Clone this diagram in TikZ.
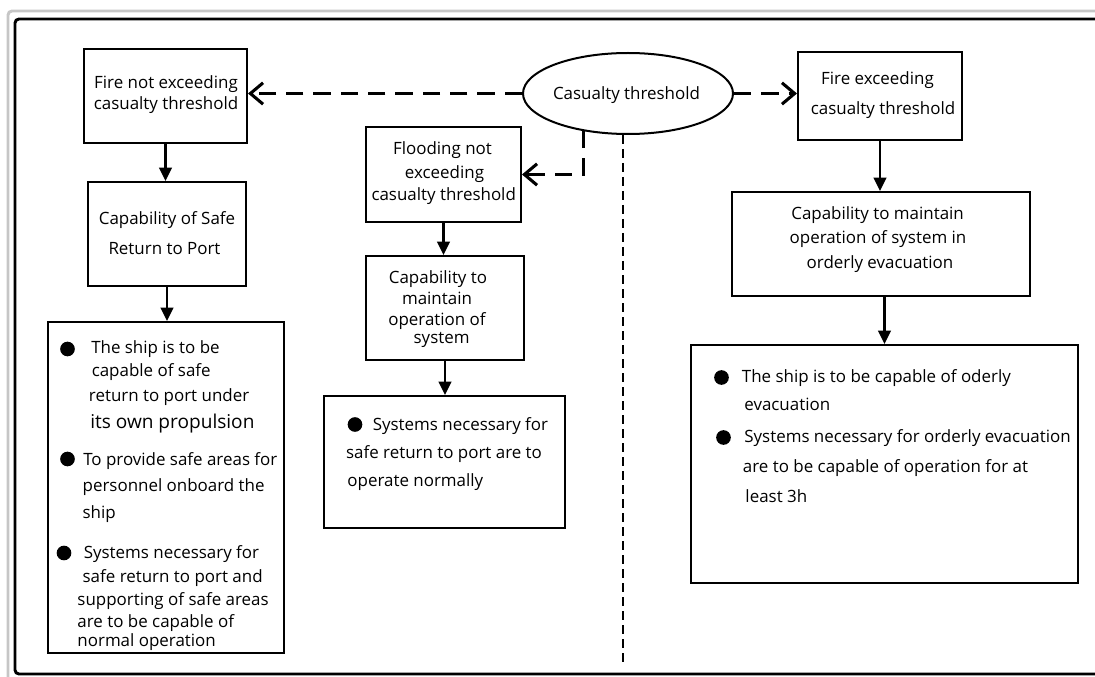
\documentclass[tikz,border=0pt]{standalone}
\usepackage{fontspec}
\setmainfont{Open Sans}
\usetikzlibrary{arrows.meta,fit,shapes.geometric}
\begin{document}
\begin{tikzpicture}[x=0.75pt,y=-0.75pt,
  box/.style={draw, line width=1.5pt, inner sep=0pt},
  ctxt/.style={anchor=base, inner sep=0pt, font=\fontsize{12.7}{15}\selectfont},
  arr/.style={line width=1.6pt, -{Triangle[length=10pt,width=9.5pt]}},
  darr/.style={line width=2.3pt, dash pattern=on 13pt off 7.5pt, -{Straight Barb[length=9.5pt,width=16pt]}},
  divider/.style={line width=1.1pt, dash pattern=on 7pt off 3.5pt},
  dot/.style={circle, fill, inner sep=0pt, minimum size=11pt},
  txt/.style={anchor=base west, inner sep=0pt, font=\fontsize{12.7}{15}\selectfont},
]
\useasboundingbox (0,0) rectangle (1095,677);
% window frame
\draw[gray!45, line width=2.2pt, rounded corners=3pt] (1095,11) -- (8,11) -- (8,677);
\draw[black, line width=2.2pt, rounded corners=3pt] (1095,19) -- (15,19) -- (15,674) -- (1095,674);

% left column
\node[box, fit={(84,49) (247,143)}] (b1) {};
\node[ctxt] (b1t1) at (166,88.3) {Fire not exceeding};
\node[ctxt] (b1t2) at (166,109.3) {casualty threshold};
\node[box, fit={(88,182) (246,286)}] (b2) {};
\node[ctxt] (b2t1) at (167,225) {Capability of Safe};
\node[ctxt] (b2t2) at (164.5,255) {Return to Port};
\node[box, fit={(48,322) (284,653)}] (lb) {};

% middle column
\node[box, fit={(366,127) (521,222)}] (fl) {};
\node[ctxt] (flt1) at (442.5,155) {Flooding not};
\node[ctxt] (flt2) at (444.5,179) {exceeding};
\node[ctxt] (flt3) at (443.7,201) {casualty threshold};
\node[box, fit={(366,256) (524,360)}] (mc) {};
\node[ctxt] (mct1) at (438,283.3) {Capability to};
\node[ctxt] (mct2) at (437,304.5) {maintain};
\node[ctxt] (mct3) at (437,325) {operation of};
\node[ctxt] (mct4) at (441.6,343.3) {system};
\node[box, fit={(324,396) (565,528)}] (mb) {};

% ellipse
\node[ellipse, draw, line width=1.5pt, inner sep=0pt, minimum width=157.5pt, minimum height=60.75pt] (ell) at (628,93.5) {};
\node[ctxt] (ellt) at (626.5,99.5) {Casualty threshold};

% right column
\node[box, fit={(798,52) (962,140)}] (rt) {};
\node[ctxt] (rtt1) at (877.5,85) {Fire exceeding};
\node[ctxt] (rtt2) at (883,115) {casualty threshold};
\node[box, fit={(732,192) (1030,296)}] (rc) {};
\node[ctxt] (rct1) at (877.6,220) {Capability to maintain};
\node[ctxt] (rct2) at (878,243.5) {operation of system in};
\node[ctxt] (rct3) at (880,268) {orderly evacuation};
\node[box, fit={(691,345) (1078,583)}] (rb) {};

% solid arrows
\draw[arr] (b1.south) -- (b1.south |- b2.north);
\draw[arr] (b2.south) -- (b2.south |- lb.north);
\draw[arr] (fl.south) -- (fl.south |- mc.north);
\draw[arr] (mc.south) -- (mc.south |- mb.north);
\draw[arr] (rt.south) -- (rt.south |- rc.north);
\draw[arr] (rb.north |- rc.south) -- (rb.north);

% dashed arrows
\draw[darr] (ell.west) -- (ell.west -| b1.east);
\draw[darr] (ell.east) -- (ell.east -| rt.west);
\draw[darr] (ell.220.6) |- (fl.east);

% divider
\coordinate (divbot) at (623,667);
\draw[divider] (ell.south -| divbot) -- (divbot);

% left bullets
\node[dot] (l1) at (67.5,349) {};
\node[txt] (l1a) at (91,353) {The ship is to be};
\node[txt] (l1b) at (91.5,376.7) {capable of safe};
\node[txt] (l1c) at (88.7,401) {return to port under};
\node[txt, font=\fontsize{14.3}{15}\selectfont] (l1d) at (90,428) {its own propulsion};
\node[dot] (l2) at (67.5,459) {};
\node[txt] (l2a) at (83,465) {To provide safe areas for};
\node[txt] (l2b) at (82.4,491) {personnel onboard the};
\node[txt] (l2c) at (82.4,518) {ship};
\node[dot] (l3) at (64,553) {};
\node[txt] (l3a) at (83.5,558) {Systems necessary for};
\node[txt] (l3b) at (82.4,582.7) {safe return to port and};
\node[txt] (l3c) at (77.2,605.7) {supporting of safe areas};
\node[txt] (l3d) at (77.2,627.7) {are to be capable of};
\node[txt] (l3e) at (77.2,646) {normal operation};

% middle bullets
\node[dot] (m1) at (355,424.5) {};
\node[txt] (m1a) at (372.5,430) {Systems necessary for};
\node[txt] (m1b) at (345.8,458.3) {safe return to port are to};
\node[txt] (m1c) at (347.2,486.7) {operate normally};

% right bullets
\node[dot] (r1) at (721.5,377.5) {};
\node[txt] (r1a) at (741.7,382.7) {The ship is to be capable of oderly};
\node[txt] (r1b) at (744.1,410) {evacuation};
\node[dot] (r2) at (723.5,437.5) {};
\node[txt] (r2a) at (744.1,442.7) {Systems necessary for orderly evacuation};
\node[txt] (r2b) at (742.7,472.7) {are to be capable of operation for at};
\node[txt] (r2c) at (745.2,502.7) {least 3h};
\end{tikzpicture}
\end{document}
